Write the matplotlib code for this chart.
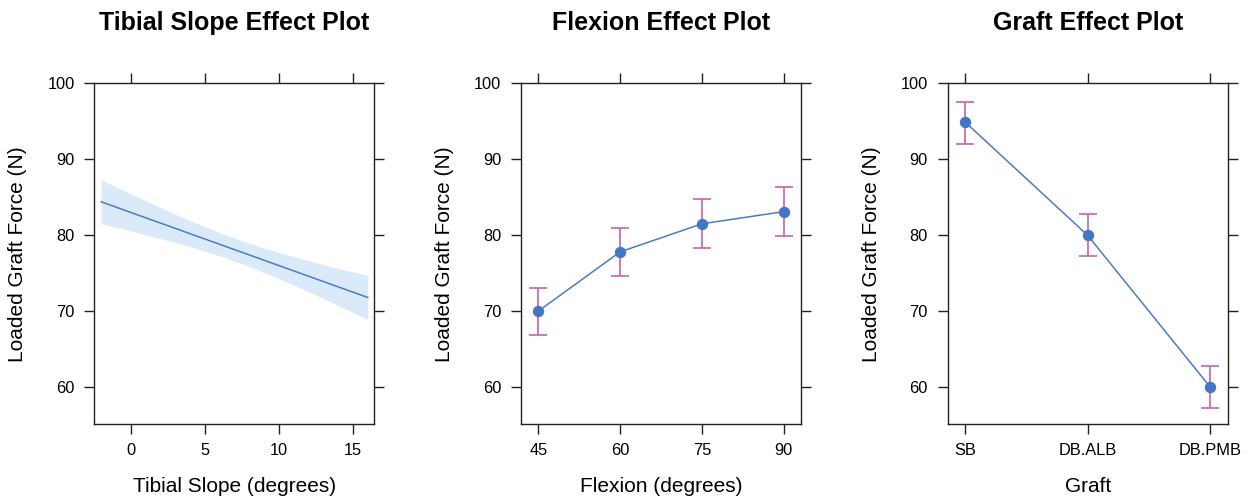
import matplotlib
matplotlib.use("Agg")
import matplotlib.pyplot as plt

plt.rcParams['font.family'] = ['Liberation Sans', 'DejaVu Sans']

# Tibial slope effect (fitted line with confidence band)
slope_x = [-2, 0, 2, 4, 6, 8, 10, 12, 14, 16]
slope_fit = [84.4, 83.0, 81.6, 80.2, 78.8, 77.4, 76.0, 74.6, 73.2, 71.8]
slope_upper = [87.3, 85.44, 83.64, 81.91, 80.32, 78.92, 77.71, 76.64, 75.64, 74.7]
slope_lower = [81.5, 80.56, 79.56, 78.49, 77.28, 75.88, 74.29, 72.56, 70.76, 68.9]

# Flexion effect
flex_x = [45, 60, 75, 90]
flex_fit = [70.0, 77.8, 81.5, 83.1]
flex_upper = [73.1, 80.9, 84.7, 86.3]
flex_lower = [66.8, 74.6, 78.3, 79.9]

# Graft effect
graft_names = ["SB", "DB.ALB", "DB.PMB"]
graft_fit = [94.9, 80.0, 60.05]
graft_upper = [97.6, 82.75, 62.8]
graft_lower = [92.05, 77.3, 57.3]

line_col = "#4a7bc8"
pt_col = "#4477c3"
err_col = "#c862aa"
band_col = "#dbeaf8"
frame_col = "#222222"

W, H = 1251, 499
fig = plt.figure(figsize=(W / 100, H / 100), dpi=100)

lefts = [94.3, 521, 947.7]
top, bottom, width = 83.3, 424.3, 280
axes = []
for l in lefts:
    ax = fig.add_axes([l / W, (H - bottom) / H, width / W, (bottom - top) / H])
    axes.append(ax)


def style(ax, title, xlabel):
    for s in ax.spines.values():
        s.set_color(frame_col)
        s.set_linewidth(1.0)
    ax.tick_params(direction='out', length=7.2, width=1.0, color=frame_col,
                   labelsize=11.8, pad=6, top=True, right=True,
                   labeltop=False, labelright=False)
    ax.tick_params(axis='y', pad=7)
    ax.set_ylim(55.1, 100)
    ax.set_yticks([60, 70, 80, 90, 100])
    ax.text(0.5, 1.177, title, transform=ax.transAxes, ha='center',
            va='center', fontsize=18, fontweight='bold')
    ax.text(0.5, -0.181, xlabel, transform=ax.transAxes, ha='center',
            va='center', fontsize=15)
    ax.text(-0.2725, 0.5, "Loaded Graft Force (N)", transform=ax.transAxes,
            ha='center', va='center', rotation=90, fontsize=15)


# panel 1
ax = axes[0]
ax.fill_between(slope_x, slope_lower, slope_upper, color=band_col, lw=0)
ax.plot(slope_x, slope_fit, color=line_col, lw=1.1)
ax.set_xlim(-2.46, 16.44)
ax.set_xticks([0, 5, 10, 15])
style(ax, "Tibial Slope Effect Plot", "Tibial Slope (degrees)")

# panel 2
ax = axes[1]
ax.plot(flex_x, flex_fit, color=line_col, lw=1.1, zorder=2)
ax.errorbar(flex_x, flex_fit,
            yerr=[[f - lo for f, lo in zip(flex_fit, flex_lower)],
                  [u - f for f, u in zip(flex_fit, flex_upper)]],
            fmt='none', ecolor=err_col, elinewidth=1.2, capsize=6.5,
            capthick=1.2, zorder=3)
ax.plot(flex_x, flex_fit, 'o', color=pt_col, ms=7.2, zorder=4)
ax.set_xlim(41.83, 93.17)
ax.set_xticks(flex_x)
style(ax, "Flexion Effect Plot", "Flexion (degrees)")

# panel 3
ax = axes[2]
gx = list(range(1, len(graft_names) + 1))
ax.plot(gx, graft_fit, color=line_col, lw=1.1, zorder=2)
ax.errorbar(gx, graft_fit,
            yerr=[[f - lo for f, lo in zip(graft_fit, graft_lower)],
                  [u - f for f, u in zip(graft_fit, graft_upper)]],
            fmt='none', ecolor=err_col, elinewidth=1.2, capsize=6.5,
            capthick=1.2, zorder=3)
ax.plot(gx, graft_fit, 'o', color=pt_col, ms=7.2, zorder=4)
ax.set_xlim(0.858, 3.145)
ax.set_xticks(gx)
ax.set_xticklabels(graft_names)
style(ax, "Graft Effect Plot", "Graft")

fig.savefig("out.png", dpi=100)
